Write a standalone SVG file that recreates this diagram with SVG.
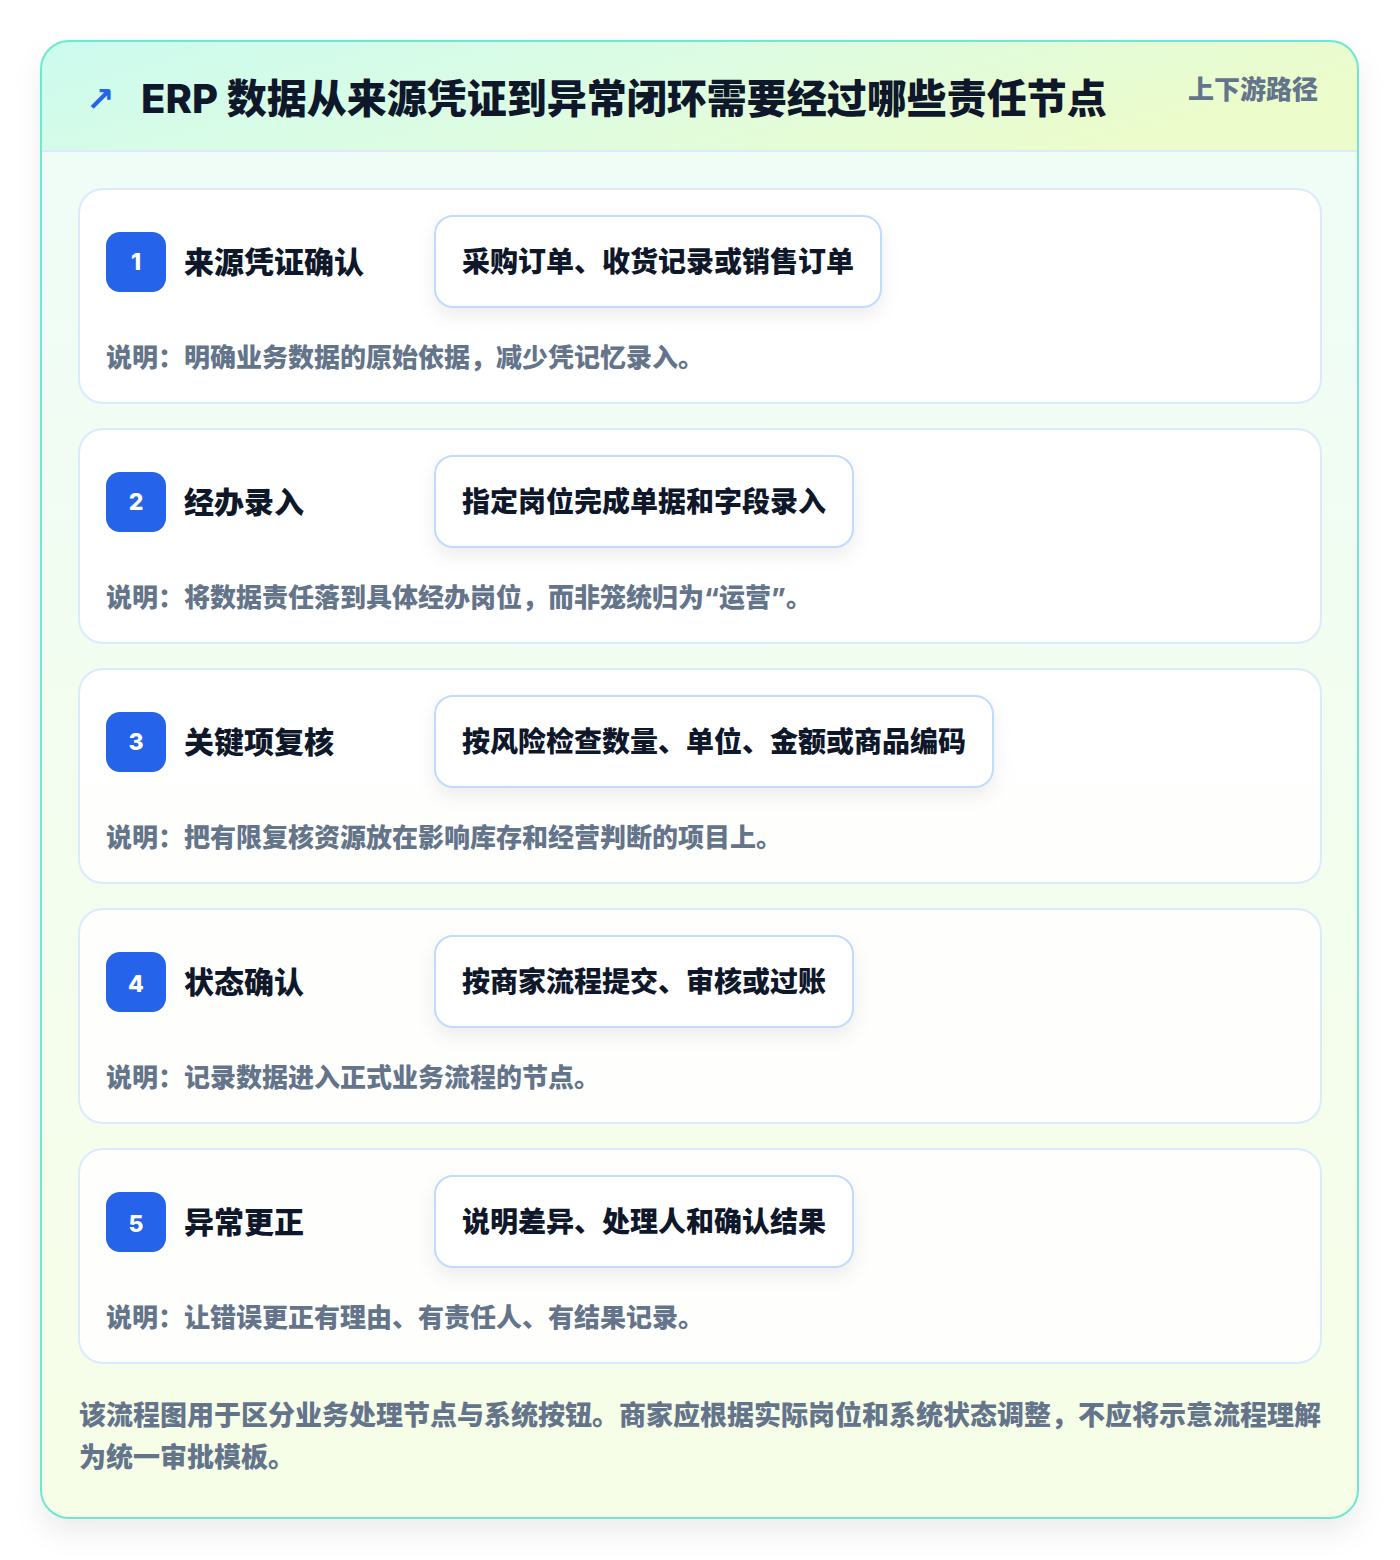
<svg xmlns="http://www.w3.org/2000/svg" width="1400" height="1560" viewBox="0 0 1400 1560">
<defs>
<linearGradient id="panelBg" x1="0" y1="0" x2="0" y2="1">
<stop offset="0" stop-color="#effdf8"/>
<stop offset="1" stop-color="#f7fee7"/>
</linearGradient>
<linearGradient id="headBg" x1="0" y1="0" x2="1" y2="0.3">
<stop offset="0" stop-color="#ccfbef"/>
<stop offset="0.5" stop-color="#dcfce3"/>
<stop offset="1" stop-color="#ecfccb"/>
</linearGradient>
<filter id="panelShadow" x="-10%" y="-10%" width="120%" height="120%">
<feDropShadow dx="0" dy="14" stdDeviation="14" flood-color="#0f172a" flood-opacity="0.08"/>
</filter>
<filter id="pillShadow" x="-20%" y="-40%" width="140%" height="200%">
<feDropShadow dx="0" dy="8" stdDeviation="9" flood-color="#0f172a" flood-opacity="0.07"/>
</filter>
<clipPath id="panelClip"><rect x="41" y="41" width="1317" height="1477" rx="28"/></clipPath>
</defs>
<style>
text{font-family:Inter,"Noto Sans CJK SC",sans-serif;font-weight:800}
.card{fill:#ffffff;fill-opacity:0.88;stroke:#dbeafe;stroke-width:2}
.badge{fill:#2563eb}
.num{fill:#ffffff;font-size:23px;text-anchor:middle}
.label{fill:#0f172a;font-size:30px}
.pill{fill:#ffffff;stroke:#bfdbfe;stroke-width:2}
.pilltext{fill:#0f172a;font-size:28px}
.desc{fill:#64748b;font-size:26px}
.foot{fill:#64748b;font-size:27px}
</style>
<rect width="1400" height="1560" fill="#ffffff"/>
<g id="panel">
<rect x="41" y="41" width="1317" height="1477" rx="28" fill="url(#panelBg)" filter="url(#panelShadow)"/>
<g clip-path="url(#panelClip)">
<rect x="41" y="41" width="1317" height="110" fill="url(#headBg)"/>
</g>
<line x1="42" y1="151" x2="1357" y2="151" stroke="#dbeafe" stroke-width="2"/>
<rect x="41" y="41" width="1317" height="1477" rx="28" fill="none" stroke="#6ee7d3" stroke-width="2"/>
</g>
<g id="header">
<text x="86" y="111" fill="#2563eb" font-size="34" style="font-family:'DejaVu Sans',sans-serif;font-weight:700">↗</text>
<text x="141" y="113" fill="#0f172a" font-size="40">ERP 数据从来源凭证到异常闭环需要经过哪些责任节点</text>
<text x="1318" y="99" fill="#64748b" font-size="26" text-anchor="end">上下游路径</text>
</g>
<g id="connectors"></g>
<g id="node1">
<rect class="card" x="79" y="189" width="1242" height="214" rx="24"/>
<rect class="badge" x="106" y="232" width="60" height="60" rx="14"/>
<text class="num" x="136" y="270">1</text>
<text class="label" x="184" y="273">来源凭证确认</text>
<rect class="pill" x="435" y="216" width="446" height="91" rx="18" filter="url(#pillShadow)"/>
<text class="pilltext" x="462" y="272">采购订单、收货记录或销售订单</text>
<text class="desc" x="106" y="367">说明：明确业务数据的原始依据，减少凭记忆录入。</text>
</g>
<g id="node2">
<rect class="card" x="79" y="429" width="1242" height="214" rx="24"/>
<rect class="badge" x="106" y="472" width="60" height="60" rx="14"/>
<text class="num" x="136" y="510">2</text>
<text class="label" x="184" y="513">经办录入</text>
<rect class="pill" x="435" y="456" width="418" height="91" rx="18" filter="url(#pillShadow)"/>
<text class="pilltext" x="462" y="512">指定岗位完成单据和字段录入</text>
<text class="desc" x="106" y="607">说明：将数据责任落到具体经办岗位，而非笼统归为“运营”。</text>
</g>
<g id="node3">
<rect class="card" x="79" y="669" width="1242" height="214" rx="24"/>
<rect class="badge" x="106" y="712" width="60" height="60" rx="14"/>
<text class="num" x="136" y="750">3</text>
<text class="label" x="184" y="753">关键项复核</text>
<rect class="pill" x="435" y="696" width="558" height="91" rx="18" filter="url(#pillShadow)"/>
<text class="pilltext" x="462" y="752">按风险检查数量、单位、金额或商品编码</text>
<text class="desc" x="106" y="847">说明：把有限复核资源放在影响库存和经营判断的项目上。</text>
</g>
<g id="node4">
<rect class="card" x="79" y="909" width="1242" height="214" rx="24"/>
<rect class="badge" x="106" y="952" width="60" height="60" rx="14"/>
<text class="num" x="136" y="992">4</text>
<text class="label" x="184" y="993">状态确认</text>
<rect class="pill" x="435" y="936" width="418" height="91" rx="18" filter="url(#pillShadow)"/>
<text class="pilltext" x="462" y="992">按商家流程提交、审核或过账</text>
<text class="desc" x="106" y="1087">说明：记录数据进入正式业务流程的节点。</text>
</g>
<g id="node5">
<rect class="card" x="79" y="1149" width="1242" height="214" rx="24"/>
<rect class="badge" x="106" y="1192" width="60" height="60" rx="14"/>
<text class="num" x="136" y="1232">5</text>
<text class="label" x="184" y="1233">异常更正</text>
<rect class="pill" x="435" y="1176" width="418" height="91" rx="18" filter="url(#pillShadow)"/>
<text class="pilltext" x="462" y="1232">说明差异、处理人和确认结果</text>
<text class="desc" x="106" y="1327">说明：让错误更正有理由、有责任人、有结果记录。</text>
</g>
<g id="footer">
<text class="foot" x="79" y="1425">该流程图用于区分业务处理节点与系统按钮。商家应根据实际岗位和系统状态调整，不应将示意流程理解</text>
<text class="foot" x="79" y="1467">为统一审批模板。</text>
</g>
</svg>
